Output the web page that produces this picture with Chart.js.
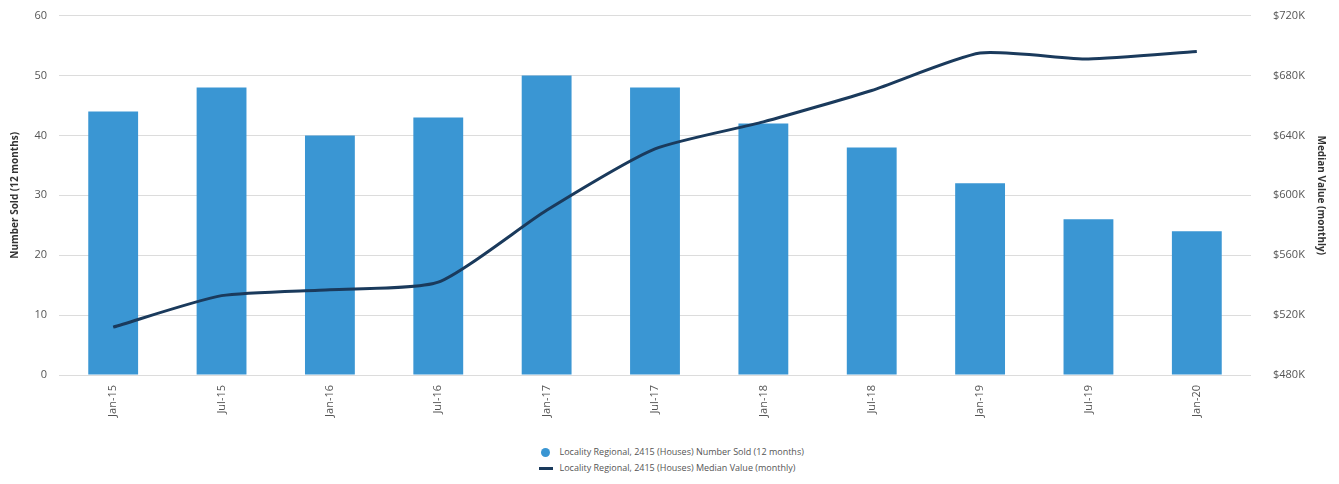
<!DOCTYPE html>
<html>
<head>
<meta charset="utf-8">
<script src="https://cdn.jsdelivr.net/npm/chart.js@4/dist/chart.umd.min.js"></script>
<style>
  html, body { margin: 0; padding: 0; background: #fff; }
  #wrap { position: relative; width: 1339px; height: 440px; overflow: hidden; }
  #grafico { position: absolute; left: 0; top: -5px; }
  #legend {
    position: absolute; left: 0; top: 444px; width: 1339px;
    font-family: "Open Sans", sans-serif; font-size: 9px; color: #555;
  }
  #legend .box { width: 270px; margin: 0 auto; padding-left: 8px; }
  #legend .item { height: 16px; line-height: 16px; white-space: nowrap; }
  #legend .dot { display: inline-block; width: 9px; height: 9px; border-radius: 50%; background: #3a96d3; vertical-align: middle; margin: 0 10px 0 2px; }
  #legend .dash { display: inline-block; width: 14px; height: 3px; background: #1a3a5c; vertical-align: middle; margin-right: 7px; }
</style>
</head>
<body>
<div id="wrap"><canvas id="grafico" width="1339" height="445"></canvas></div>
<div id="legend"></div>

<script>
// dados
const periodos = ["Jan-15", "Jul-15", "Jan-16", "Jul-16", "Jan-17", "Jul-17", "Jan-18", "Jul-18", "Jan-19", "Jul-19", "Jan-20"];
const numeroVendido = [44, 48, 40, 43, 50, 48, 42, 38, 32, 26, 24];
const valorMediano = [512, 533, 537, 542, 590, 631, 649, 670, 695, 691, 696];

const nomeBarras = "Locality Regional, 2415 (Houses) Number Sold (12 months)";
const nomeLinha = "Locality Regional, 2415 (Houses) Median Value (monthly)";

const fonte = "'Open Sans', sans-serif";

// legenda em html
document.getElementById("legend").innerHTML = `
  <div class="box">
    <div class="item"><span class="dot"></span>${nomeBarras}</div>
    <div class="item"><span class="dash"></span>${nomeLinha}</div>
  </div>
`;

// labels do eixo x giradas -90
const labelsX = {
  id: "labelsX",
  afterDraw(chart) {
    const eixo = chart.scales.x;
    const ctx = chart.ctx;
    ctx.save();
    ctx.font = "11px " + fonte;
    ctx.fillStyle = "#555";
    ctx.textAlign = "right";
    ctx.textBaseline = "middle";
    periodos.forEach((p, i) => {
      const x = eixo.getPixelForTick(i);
      ctx.save();
      ctx.translate(x, eixo.top + 10);
      ctx.rotate(-Math.PI / 2);
      ctx.fillText(p, 0, 0);
      ctx.restore();
    });
    ctx.restore();
  }
};

new Chart(document.getElementById("grafico"), {
  data: {
    labels: periodos,
    datasets: [
      {
        type: "line",
        label: nomeLinha,
        data: valorMediano,
        yAxisID: "y1",
        borderColor: "#1a3a5c",
        borderWidth: 3,
        pointRadius: 0,
        tension: 0.2,
        order: 0
      },
      {
        type: "bar",
        label: nomeBarras,
        data: numeroVendido,
        yAxisID: "y",
        backgroundColor: "#3a96d3",
        categoryPercentage: 1,
        barPercentage: 0.46,
        order: 1
      }
    ]
  },
  options: {
    responsive: false,
    animation: false,
    layout: { padding: { top: 0, bottom: 0, left: 9, right: 12 } },
    plugins: {
      legend: { display: false },
      tooltip: { enabled: false }
    },
    scales: {
      x: {
        grid: { display: false },
        border: { display: false },
        ticks: { display: false },
        afterFit(s) { s.height = 65; }
      },
      y: {
        position: "left",
        min: 0,
        max: 60,
        ticks: { stepSize: 10, color: "#555", font: { family: fonte, size: 11 }, padding: 12 },
        grid: { color: "#dcdcdc", drawTicks: false },
        border: { display: false },
        title: { display: true, text: "Number Sold (12 months)", color: "#333", font: { family: fonte, size: 10, weight: "bold" }, padding: 0 },
        afterFit(s) { s.width = 50; }
      },
      y1: {
        position: "right",
        min: 480,
        max: 720,
        ticks: {
          stepSize: 40,
          color: "#555",
          font: { family: fonte, size: 11 },
          padding: 14,
          callback: v => "$" + v + "K"
        },
        grid: { display: false },
        border: { display: false },
        title: { display: true, text: "Median Value (monthly)", color: "#333", font: { family: fonte, size: 10, weight: "bold" }, padding: 0 },
        afterFit(s) { s.width = 76; }
      }
    }
  },
  plugins: [labelsX]
});
</script>
</body>
</html>
